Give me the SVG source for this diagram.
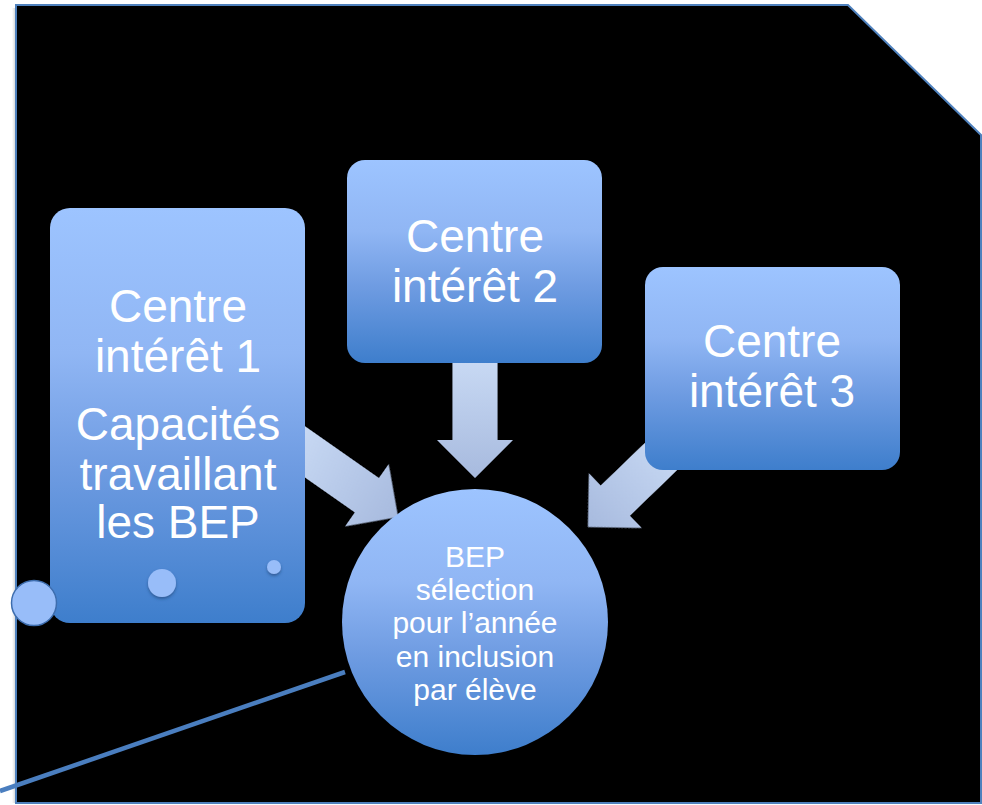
<svg xmlns="http://www.w3.org/2000/svg" width="982" height="805" viewBox="0 0 982 805">
  <defs>
    <linearGradient id="nodeGrad" x1="0" y1="0" x2="0" y2="1">
      <stop offset="0" stop-color="#9DC4FF"/>
      <stop offset="0.35" stop-color="#90B6F4"/>
      <stop offset="0.62" stop-color="#6F9CE2"/>
      <stop offset="1" stop-color="#3E7ECC"/>
    </linearGradient>
    <linearGradient id="arrowGrad" x1="0" y1="0" x2="0" y2="1">
      <stop offset="0" stop-color="#CADBF5"/>
      <stop offset="1" stop-color="#A7BADE"/>
    </linearGradient>
    <linearGradient id="edgeShade" x1="0" y1="0" x2="1" y2="0">
      <stop offset="0" stop-color="#FFFFFF"/>
      <stop offset="1" stop-color="#CFCFCF"/>
    </linearGradient>
    <filter id="sh" x="-30%" y="-30%" width="160%" height="170%">
      <feDropShadow dx="0" dy="2" stdDeviation="1.5" flood-color="#1E3F73" flood-opacity="0.6"/>
    </filter>
    <filter id="ash" x="-20%" y="-20%" width="140%" height="140%">
      <feDropShadow dx="0" dy="1.5" stdDeviation="2" flood-color="#000000" flood-opacity="0.5"/>
    </filter>
  </defs>
  <style>
    .txt { font-family: "Liberation Sans", Arial, sans-serif; fill: #FFFFFF; text-anchor: middle; }
    .big { font-size: 46px; }
    .small { font-size: 30px; }
    .node { fill: url(#nodeGrad); }
    .arrow { fill: url(#arrowGrad); }
    .dot { fill: #98BDF9; }
  </style>

  <rect x="0" y="0" width="982" height="805" fill="#FFFFFF"/>
  <rect x="12" y="8" width="4" height="795" fill="url(#edgeShade)"/>
  <path d="M16,5 L848,5 L981,135 L981,803 L16,803 Z" fill="#000000" stroke="#4F81BD" stroke-width="2"/>

  <line x1="0" y1="791" x2="345" y2="672" stroke="#4A7EBF" stroke-width="4.5"/>

  <g id="connectors">
    <polygon class="arrow" filter="url(#ash)" transform="translate(398,517) rotate(-55)" points="0,0 38,-38 21,-38 21,-138 -21,-138 -21,-38 -38,-38"/>
    <polygon class="arrow" filter="url(#ash)" transform="translate(475,478)" points="0,0 38,-38 22.5,-38 22.5,-125 -22.5,-125 -22.5,-38 -38,-38"/>
    <polygon class="arrow" filter="url(#ash)" transform="translate(588,527) rotate(46)" points="0,0 38,-38 21,-38 21,-125 -21,-125 -21,-38 -38,-38"/>
  </g>

  <g id="node-centre1">
    <rect class="node" x="50" y="208" width="255" height="415" rx="20"/>
    <text class="txt big" x="178" y="322">Centre</text>
    <text class="txt big" x="178" y="372">intérêt 1</text>
    <text class="txt big" x="178" y="440">Capacités</text>
    <text class="txt big" x="178" y="490">travaillant</text>
    <text class="txt big" x="178" y="538">les BEP</text>
  </g>

  <g id="node-centre2">
    <rect class="node" x="347" y="160" width="255" height="203" rx="18"/>
    <text class="txt big" x="475" y="252">Centre</text>
    <text class="txt big" x="475" y="302">intérêt 2</text>
  </g>

  <g id="node-centre3">
    <rect class="node" x="645" y="267" width="255" height="203" rx="18"/>
    <text class="txt big" x="772" y="357">Centre</text>
    <text class="txt big" x="772" y="407">intérêt 3</text>
  </g>

  <g id="node-bep">
    <circle class="node" cx="475" cy="622" r="133"/>
    <text class="txt small" x="475" y="567">BEP</text>
    <text class="txt small" x="475" y="600">sélection</text>
    <text class="txt small" x="475" y="633">pour l’année</text>
    <text class="txt small" x="475" y="667">en inclusion</text>
    <text class="txt small" x="475" y="700">par élève</text>
  </g>

  <g id="decor-dots">
    <circle class="dot" cx="34" cy="603" r="22.5" stroke="#3D6DAE" stroke-width="1.5"/>
    <circle class="dot" cx="162" cy="583" r="14" filter="url(#sh)"/>
    <circle class="dot" cx="274" cy="567" r="7" filter="url(#sh)"/>
  </g>
</svg>
